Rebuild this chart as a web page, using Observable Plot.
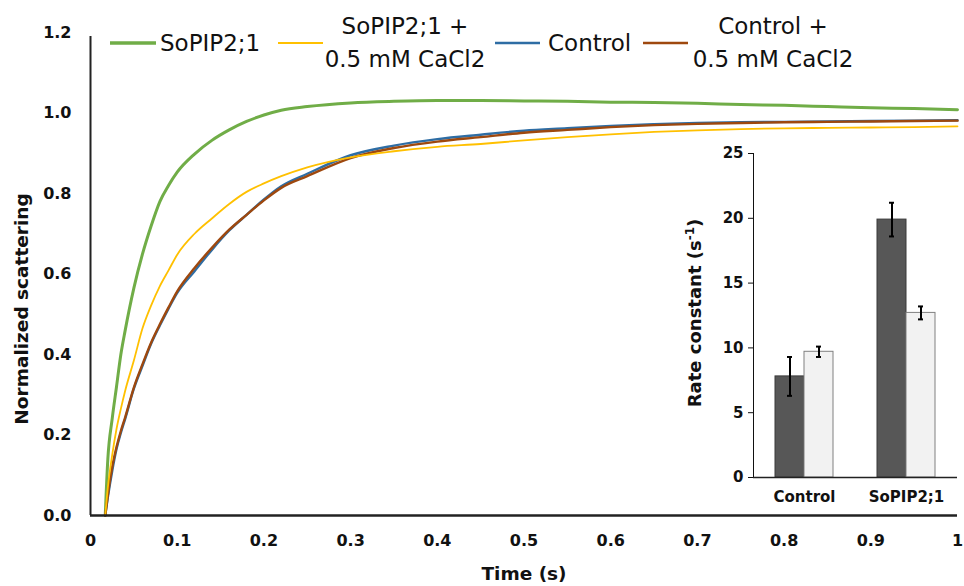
<!DOCTYPE html>
<html>
<head>
<meta charset="utf-8">
<script src="https://cdn.jsdelivr.net/npm/d3@7"></script>
<script src="https://cdn.jsdelivr.net/npm/@observablehq/plot@0.6"></script>
<style>
  html, body { margin: 0; padding: 0; background: #fff; }
  #wrap { position: relative; width: 964px; height: 586px; font-family: "DejaVu Sans", sans-serif; }
  #inset { position: absolute; left: 660px; top: 130px; }
</style>
</head>
<body>
<div id="wrap"><div id="main"></div><div id="inset"></div></div>
<script>
// ---- Main chart data ----
const time = [0.017,0.02,0.025,0.03,0.035,0.04,0.05,0.06,0.07,0.08,0.09,0.10,0.12,0.14,0.16,0.18,0.20,0.22,0.25,0.30,0.35,0.40,0.45,0.50,0.55,0.60,0.65,0.70,0.75,0.80,0.85,0.90,0.95,1.00];
const sopip = [0,0.14,0.24,0.32,0.40,0.46,0.565,0.65,0.72,0.78,0.82,0.853,0.898,0.932,0.958,0.979,0.995,1.007,1.016,1.025,1.029,1.031,1.031,1.030,1.029,1.027,1.026,1.024,1.021,1.019,1.016,1.013,1.011,1.008];
const sopipCa = [0,0.07,0.15,0.215,0.265,0.31,0.385,0.465,0.522,0.57,0.609,0.648,0.70,0.738,0.774,0.804,0.825,0.843,0.865,0.89,0.905,0.916,0.923,0.932,0.94,0.947,0.953,0.957,0.96,0.962,0.963,0.964,0.965,0.967];
const control = [0,0.045,0.11,0.165,0.205,0.24,0.315,0.372,0.427,0.472,0.514,0.553,0.607,0.66,0.708,0.747,0.785,0.818,0.849,0.895,0.919,0.935,0.946,0.956,0.962,0.968,0.972,0.975,0.977,0.978,0.979,0.98,0.981,0.982];
const controlCa = [0,0.05,0.12,0.17,0.21,0.244,0.318,0.376,0.43,0.475,0.517,0.557,0.615,0.665,0.71,0.747,0.783,0.814,0.843,0.888,0.913,0.929,0.94,0.951,0.958,0.965,0.97,0.973,0.975,0.977,0.978,0.979,0.98,0.981];
const seriesNames = ["SoPIP2;1", "SoPIP2;1 + 0.5 mM CaCl2", "Control", "Control + 0.5 mM CaCl2"];
const seriesColors = ["#70ad47", "#ffc000", "#2e6da4", "#9e480e"];
const xTicks = [0,0.1,0.2,0.3,0.4,0.5,0.6,0.7,0.8,0.9,1];
const yTicks = [0,0.2,0.4,0.6,0.8,1.0,1.2];

// ---- Inset data ----
const groups = ["Control", "SoPIP2;1"];
const treatments = ["none", "0.5 mM CaCl2"];
const rateNoCa = [7.8, 19.9];
const errNoCa = [1.5, 1.3];
const rateCa = [9.7, 12.7];
const errCa = [0.4, 0.5];
const insetTicks = [0,5,10,15,20,25];

const FONT = "DejaVu Sans, sans-serif";

function toRows(vals, name) { return time.map((t, i) => ({t, v: vals[i], s: name})); }

const main = Plot.plot({
  width: 964, height: 586,
  marginLeft: 90, marginRight: 7, marginTop: 32, marginBottom: 71,
  style: {fontFamily: FONT, fontSize: "16px", fontWeight: "bold", color: "#111", background: "transparent"},
  x: {domain: [0, 1], ticks: xTicks, tickSize: 0, tickPadding: 19, label: null,
      tickFormat: d => (d === 0 || d === 1) ? String(d) : d.toFixed(1)},
  y: {domain: [0, 1.2], ticks: yTicks, tickSize: 0, tickPadding: 19, label: null,
      tickFormat: d => d.toFixed(1)},
  marks: [
    Plot.line(toRows(sopip, seriesNames[0]), {x: "t", y: "v", stroke: seriesColors[0], strokeWidth: 3, curve: "monotone-x"}),
    Plot.line(toRows(control, seriesNames[2]), {x: "t", y: "v", stroke: seriesColors[2], strokeWidth: 2.4, curve: "monotone-x"}),
    Plot.line(toRows(controlCa, seriesNames[3]), {x: "t", y: "v", stroke: seriesColors[3], strokeWidth: 2.4, curve: "monotone-x"}),
    Plot.line(toRows(sopipCa, seriesNames[1]), {x: "t", y: "v", stroke: seriesColors[1], strokeWidth: 1.8, curve: "monotone-x"}),
    Plot.ruleX([0], {y1: 0, y2: 1.19, stroke: "#222", strokeWidth: 2}),
    Plot.ruleY([0], {stroke: "#222", strokeWidth: 2.5})
  ]
});
document.getElementById("main").appendChild(main);

// axis titles and legend on the main svg
const svg = d3.select(main);
svg.append("text").attr("x", 524).attr("y", 580).attr("text-anchor", "middle")
  .attr("font-family", FONT).attr("font-size", 18.5).attr("font-weight", "bold").attr("fill", "#111")
  .text("Time (s)");
svg.append("text").attr("transform", "translate(28,309) rotate(-90)").attr("text-anchor", "middle")
  .attr("font-family", FONT).attr("font-size", 18.5).attr("font-weight", "bold").attr("fill", "#111")
  .text("Normalized scattering");

const legendItems = [
  {x1: 110, x2: 156, w: 3.5, lines: ["SoPIP2;1"], tx: 160, anchor: "start"},
  {x1: 278, x2: 323, w: 2.2, lines: ["SoPIP2;1 +", "0.5 mM CaCl2"], tx: 405, anchor: "middle"},
  {x1: 495, x2: 540, w: 2.5, lines: ["Control"], tx: 548, anchor: "start"},
  {x1: 643, x2: 688, w: 2.5, lines: ["Control +", "0.5 mM CaCl2"], tx: 773, anchor: "middle"}
];
const lg = svg.append("g").attr("font-family", FONT).attr("font-size", 23)
  .attr("font-weight", "normal").style("font-weight", "normal").attr("fill", "#111");
legendItems.forEach((it, i) => {
  lg.append("line").attr("x1", it.x1).attr("x2", it.x2).attr("y1", 43).attr("y2", 43)
    .attr("stroke", seriesColors[i]).attr("stroke-width", it.w);
  if (it.lines.length === 1) {
    lg.append("text").attr("x", it.tx).attr("y", 51).attr("text-anchor", it.anchor).text(it.lines[0]);
  } else {
    lg.append("text").attr("x", it.tx).attr("y", 34).attr("text-anchor", it.anchor).text(it.lines[0]);
    lg.append("text").attr("x", it.tx).attr("y", 67).attr("text-anchor", it.anchor).text(it.lines[1]);
  }
});

// ---- Inset bar chart ----
const bars = [];
groups.forEach((g, i) => {
  bars.push({g, tr: treatments[0], r: rateNoCa[i], lo: rateNoCa[i] - errNoCa[i], hi: rateNoCa[i] + errNoCa[i]});
  bars.push({g, tr: treatments[1], r: rateCa[i], lo: rateCa[i] - errCa[i], hi: rateCa[i] + errCa[i]});
});

const inset = Plot.plot({
  width: 304, height: 380,
  marginLeft: 92, marginRight: 7, marginTop: 23, marginBottom: 33,
  style: {fontFamily: FONT, fontSize: "15px", fontWeight: "bold", color: "#111", background: "transparent"},
  fx: {domain: groups, paddingInner: 0, paddingOuter: 0, label: null, axis: "bottom", tickSize: 0, tickPadding: 14},
  x: {domain: treatments, paddingInner: 0, paddingOuter: 0.74, axis: null},
  y: {domain: [0, 25], ticks: insetTicks, tickSize: 5, tickPadding: 5, label: null, line: true},
  color: {domain: treatments, range: ["#575757", "#f2f2f2"]},
  marks: [
    Plot.barY(bars, {fx: "g", x: "tr", y: "r", fill: "tr", stroke: d => d.tr === treatments[0] ? "#3a3a3a" : "#808080", strokeWidth: 1}),
    Plot.ruleX(bars, {fx: "g", x: "tr", y1: "lo", y2: "hi", stroke: "#000", strokeWidth: 2}),
    Plot.tickY(bars, {fx: "g", x: "tr", y: "lo", insetLeft: 12, insetRight: 12, stroke: "#000", strokeWidth: 2}),
    Plot.tickY(bars, {fx: "g", x: "tr", y: "hi", insetLeft: 12, insetRight: 12, stroke: "#000", strokeWidth: 2}),
    Plot.ruleY([0], {stroke: "#222", strokeWidth: 1.5})
  ]
});
document.getElementById("inset").appendChild(inset);
const isvg = d3.select(inset);
const t = isvg.append("text").attr("transform", "translate(41,183) rotate(-90)").attr("text-anchor", "middle")
  .attr("font-family", FONT).attr("font-size", 18).attr("font-weight", "bold").attr("fill", "#111");
t.append("tspan").text("Rate constant (s");
t.append("tspan").attr("dy", -7).attr("font-size", 12).text("-1");
t.append("tspan").attr("dy", 7).text(")");
</script>
</body>
</html>
